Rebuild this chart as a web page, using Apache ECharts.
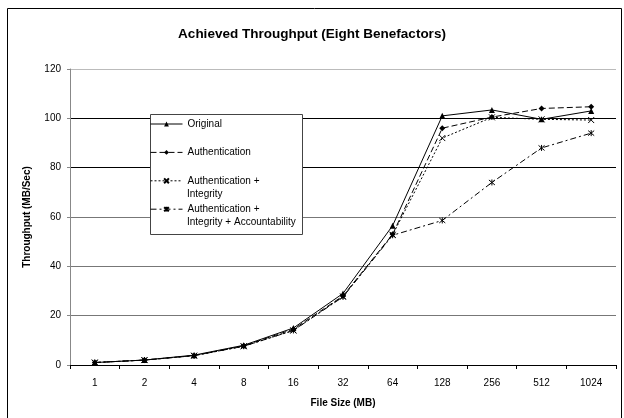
<!DOCTYPE html>
<html>
<head>
<meta charset="utf-8">
<script src="https://cdn.jsdelivr.net/npm/echarts@6/dist/echarts.min.js"></script>
<style>
  html, body { margin: 0; padding: 0; background: #fff; }
  #chart { width: 624px; height: 418px; }
</style>
</head>
<body>
<div id="chart"></div>
<script>
// file sizes (MB)
const fileSizes = ["1", "2", "4", "8", "16", "32", "64", "128", "256", "512", "1024"];
// throughput values (MB/Sec)
const original = [1, 2, 4, 8, 15, 29, 56.5, 101, 103.4, 99.6, 103];
const authentication = [1, 2, 3.8, 7.8, 14.5, 28, 53, 96, 100.5, 104, 104.7];
const authIntegrity = [1, 2, 3.8, 7.6, 14, 27.8, 52.8, 92, 100.4, 99.6, 99.3];
const authIntegrityAcc = [1, 2, 3.8, 7.6, 14, 27.6, 52.6, 58.6, 74, 88, 94];
const yTicks = [0, 20, 40, 60, 80, 100, 120];
// legend names: first line shown by the legend, second line written below it
const legendNames = [
  ["Original", ""],
  ["Authentication", ""],
  ["Authentication +", "Integrity"],
  ["Authentication + ", "Integrity + Accountability"],
];

const FONT = "Liberation Sans";
const xMark = "path://M0,0L10,10M10,0L0,10";
const starMark = "path://M0,0L10,10M10,0L0,10M5,-1L5,11";

var chart = echarts.init(document.getElementById("chart"));

const lineSeries = (name, data, symbol, size, dash, strokeOnly) => ({
  name: name,
  type: "line",
  data: data,
  symbol: symbol,
  symbolSize: size,
  showSymbol: true,
  lineStyle: { color: "#000", width: 1, type: dash },
  itemStyle: strokeOnly
    ? { color: "transparent", borderColor: "#000", borderWidth: 1 }
    : { color: "#000", borderColor: "#000", borderWidth: 0 },
  emphasis: { disabled: true },
  z: 3,
});

// second lines of the two long legend entries
const secondLines = [];
legendNames.forEach((n, i) => {
  if (n[1]) {
    secondLines.push({
      type: "text",
      x: 187,
      y: 124 + i * 28.4 + 13,
      z: 30,
      silent: true,
      style: {
        text: n[1],
        font: "10px " + FONT,
        fill: "#000",
        verticalAlign: "middle",
      },
    });
  }
});

var option = {
  animation: false,
  textStyle: { fontFamily: FONT },
  title: {
    text: "Achieved Throughput (Eight Benefactors)",
    left: "center",
    top: 22,
    textStyle: { fontFamily: FONT, fontSize: 13.5, fontWeight: "bold", color: "#000" },
  },
  graphic: [
    {
      type: "rect",
      shape: { x: 7.5, y: 8.5, width: 614, height: 430 },
      style: { fill: "none", stroke: "#000", lineWidth: 1 },
      silent: true,
    },
    {
      type: "rect",
      shape: { x: 150.5, y: 114.5, width: 152, height: 120 },
      style: { fill: "#fff", stroke: "#444", lineWidth: 1 },
      z: 20,
      silent: true,
    },
  ].concat(secondLines),
  legend: {
    orient: "vertical",
    left: 150,
    top: 118,
    padding: 0,
    itemGap: 16.4,
    itemWidth: 32,
    itemHeight: 6,
    z: 30,
    lineStyle: { width: 1 },
    textStyle: { fontFamily: FONT, fontSize: 10, color: "#000", lineHeight: 12 },
    data: legendNames.map(n => n[0]),
  },
  grid: { left: 70, right: 8, top: 69, bottom: 53 },
  xAxis: {
    type: "category",
    data: fileSizes,
    name: "File Size (MB)",
    nameLocation: "middle",
    nameGap: 33,
    nameTextStyle: { fontFamily: FONT, fontSize: 10, fontWeight: "bold", color: "#000" },
    axisLine: { lineStyle: { color: "#000", width: 1 } },
    axisTick: { show: true, length: 4, lineStyle: { color: "#000" } },
    axisLabel: { fontFamily: FONT, fontSize: 10, color: "#000", margin: 13 },
  },
  yAxis: {
    type: "value",
    min: 0,
    max: 120,
    interval: 20,
    name: "Throughput (MB/Sec)",
    nameLocation: "middle",
    nameGap: 38,
    nameTextStyle: { fontFamily: FONT, fontSize: 10, fontWeight: "bold", color: "#000" },
    axisLine: { show: true, lineStyle: { color: "#888", width: 1 } },
    axisTick: { show: true, length: 3, lineStyle: { color: "#888" } },
    axisLabel: {
      fontFamily: FONT,
      fontSize: 10,
      color: "#000",
      margin: 9,
      formatter: v => (yTicks.indexOf(v) >= 0 ? String(v) : ""),
    },
    splitLine: {
      show: true,
      lineStyle: {
        color: ["#000", "#777", "#777", "#777", "#000", "#000", "#bbb"],
        width: 1,
      },
    },
  },
  series: [
    lineSeries(legendNames[0][0], original, "triangle", 6, "solid", false),
    lineSeries(legendNames[1][0], authentication, "diamond", 6, [6, 3], false),
    lineSeries(legendNames[2][0], authIntegrity, xMark, 6, [2, 2], true),
    lineSeries(legendNames[3][0], authIntegrityAcc, starMark, 6, [6, 3, 2, 3], true),
  ],
};
option && chart.setOption(option);
</script>
</body>
</html>
